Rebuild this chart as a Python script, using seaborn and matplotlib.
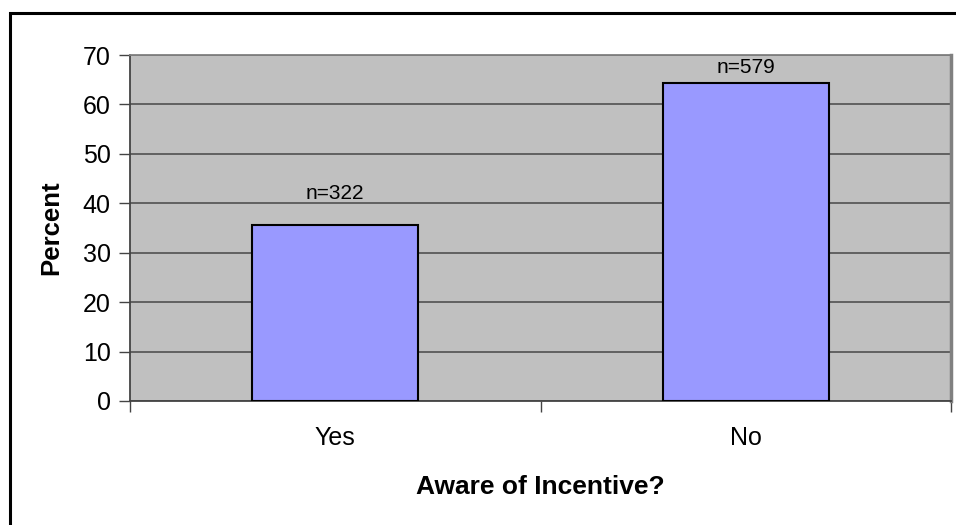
import matplotlib
matplotlib.use("Agg")
import matplotlib.pyplot as plt
from matplotlib.patches import Rectangle
from matplotlib.ticker import FixedLocator
import seaborn as sns
import pandas as pd

categories = ["Yes", "No"]
counts = [322, 579]
percents = [35.7, 64.3]
y_ticks = [0, 10, 20, 30, 40, 50, 60, 70]

sns.set_theme(style="white")
plt.rcParams["font.family"] = ["Liberation Sans", "DejaVu Sans"]

df = pd.DataFrame({"Aware": categories, "Percent": percents, "n": counts})

fig = plt.figure(figsize=(9.56, 5.25), dpi=100)
ax = fig.add_axes([130 / 956, 1 - 401 / 525, 821 / 956, 346 / 525])
ax.set_facecolor("#C0C0C0")

sns.barplot(data=df, x="Aware", y="Percent", ax=ax, color="#9999FF",
            saturation=1, width=0.405, edgecolor="black", linewidth=1.5,
            zorder=3)

ax.set_xlim(-0.5, 1.5)
ax.set_ylim(0, 70)
ax.set_yticks(y_ticks)
ax.yaxis.grid(True, color="#5a5a5a", linewidth=1.3, zorder=0)
ax.set_axisbelow(True)

# category labels without ticks; ticks drawn at the category boundaries
ax.tick_params(axis="x", which="major", length=0, pad=18, labelsize=18,
               colors="black")
ax.xaxis.set_minor_locator(FixedLocator([-0.5, 0.5, 1.5]))
ax.tick_params(axis="x", which="minor", length=8, width=1, color="#444444",
               direction="out", bottom=True)
ax.tick_params(axis="y", length=8, width=1, color="#444444", direction="out",
               left=True, labelsize=18, pad=6, colors="black")

for side in ["left", "bottom"]:
    ax.spines[side].set_color("#444444")
    ax.spines[side].set_linewidth(1.3)
for side in ["top", "right"]:
    ax.spines[side].set_visible(True)
    ax.spines[side].set_color("#808080")
ax.spines["top"].set_linewidth(1.3)
ax.spines["right"].set_linewidth(2.5)

# sample sizes above the bars (the taller one sits closer to its bar)
for i, (p, n) in enumerate(zip(percents, counts)):
    gap = 26 if p < 60 else 10
    ax.annotate(f"n={n}", xy=(i, p), xytext=(0, gap), textcoords="offset pixels",
                ha="center", va="baseline", fontsize=15, color="black")

ax.set_xlabel("Aware of Incentive?", fontsize=19, fontweight="bold",
              labelpad=18, color="black")
ax.set_ylabel("Percent", fontsize=18.5, fontweight="bold", labelpad=14,
              color="black")

# outer chart frame
fig.patches.append(Rectangle((9.5 / 956, -0.2), 1.2, 1.2 - 13 / 525,
                             transform=fig.transFigure, fill=False,
                             edgecolor="black", linewidth=2.2, zorder=10))

fig.savefig("out.png", dpi=100)
